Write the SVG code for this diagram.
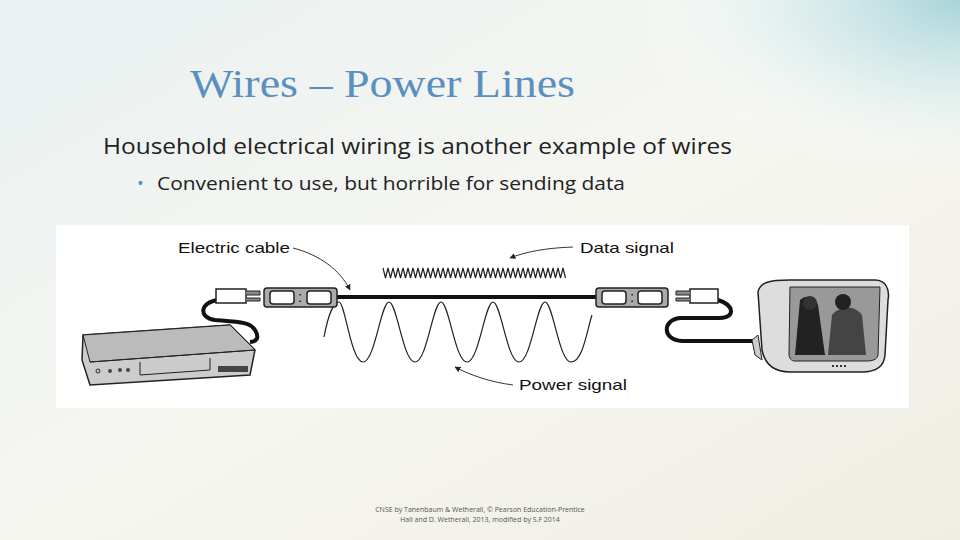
<svg xmlns="http://www.w3.org/2000/svg" width="960" height="540" viewBox="0 0 960 540">
<defs>
<linearGradient id="bg" x1="0" y1="0" x2="1" y2="1">
<stop offset="0" stop-color="#e9f1f1"/><stop offset="0.5" stop-color="#f6f6f1"/><stop offset="1" stop-color="#efeee4"/>
</linearGradient>
<radialGradient id="tr" cx="1" cy="0" r="0.6">
<stop offset="0" stop-color="#a9d4da"/><stop offset="0.5" stop-color="#d6ecec" stop-opacity="0.7"/><stop offset="1" stop-color="#ffffff" stop-opacity="0"/>
</radialGradient>
<marker id="ah" viewBox="0 0 10 10" refX="9" refY="5" markerWidth="6" markerHeight="6" orient="auto"><path d="M0,0L10,5L0,10z" fill="#222"/></marker>
</defs>
<style>
.t{font-family:"Liberation Sans",Arial,sans-serif;fill:#111;font-size:15px}
.o{fill:#aaa;stroke:#222;stroke-width:1.5}
.s{fill:#fff;stroke:#222;stroke-width:1.5}
.w{fill:none;stroke:#222;stroke-width:1.2}
.c{fill:none;stroke:#111;stroke-width:4}
.a{fill:none;stroke:#333;stroke-width:1;marker-end:url(#ah)}
</style>
<rect width="960" height="540" fill="url(#bg)"/>
<rect x="400" y="0" width="560" height="300" fill="url(#tr)"/>
<text x="190" y="97" font-family="Liberation Serif,serif" font-size="40" fill="#5b8fc0" textLength="385" lengthAdjust="spacingAndGlyphs">Wires – Power Lines</text>
<text x="103" y="154" font-family="Open Sans,sans-serif" font-size="22" fill="#222" textLength="629" lengthAdjust="spacingAndGlyphs">Household electrical wiring is another example of wires</text>
<text x="137" y="190" font-family="Open Sans,sans-serif" font-size="18" fill="#5b8fc0">•</text>
<text x="157" y="190" font-family="Open Sans,sans-serif" font-size="18" fill="#222" textLength="468" lengthAdjust="spacingAndGlyphs">Convenient to use, but horrible for sending data</text>
<rect x="56" y="225" width="853" height="183" fill="#fff"/>
<g id="connectors">
<path class="c" d="M336,297H596"/>
<path class="c" d="M218,300C200,302 198,318 215,320C240,322 250,322 255,330C260,338 256,342 250,342"/>
<path class="c" d="M718,300C735,305 735,318 720,318H680C662,320 662,340 682,341H752"/>
</g>
<g id="power-wave"><path class="w" d="M329,337 C334,310 340,302 344,302 C350,302 356,362 368,362 C380,362 386,302 394,302 C402,302 408,362 420,362 C432,362 438,302 446,302 C454,302 460,362 472,362 C484,362 490,302 498,302 C506,302 512,362 524,362 C536,362 542,302 550,302 C558,302 564,362 576,362 C588,362 592,330 597,315" transform="translate(-5,0)"/></g>
<g id="data-wave"><path class="w" d="M383,268 l2.5,10 l2.5,-10 l2.5,10 l2.5,-10 l2.5,10 l2.5,-10 l2.5,10 l2.5,-10 l2.5,10 l2.5,-10 l2.5,10 l2.5,-10 l2.5,10 l2.5,-10 l2.5,10 l2.5,-10 l2.5,10 l2.5,-10 l2.5,10 l2.5,-10 l2.5,10 l2.5,-10 l2.5,10 l2.5,-10 l2.5,10 l2.5,-10 l2.5,10 l2.5,-10 l2.5,10 l2.5,-10 l2.5,10 l2.5,-10 l2.5,10 l2.5,-10 l2.5,10 l2.5,-10 l2.5,10 l2.5,-10 l2.5,10 l2.5,-10 l2.5,10 l2.5,-10 l2.5,10 l2.5,-10 l2.5,10 l2.5,-10 l2.5,10 l2.5,-10 l2.5,10 l2.5,-10 l2.5,10 l2.5,-10 l2.5,10 l2.5,-10 l2.5,10 l2.5,-10 l2.5,10 l2.5,-10 l2.5,10 l2.5,-10 l2.5,10 l2.5,-10 l2.5,10 l2.5,-10 l2.5,10 l2.5,-10 l2.5,10 l2.5,-10 l2.5,10 l2.5,-10 l2.5,10 l2.5,-10 l2.5,10"/></g>
<g id="labels">
<text class="t" x="178" y="253" textLength="112" lengthAdjust="spacingAndGlyphs">Electric cable</text>
<path class="a" d="M293,248C320,255 340,270 350,290"/>
<text class="t" x="580" y="253" textLength="94" lengthAdjust="spacingAndGlyphs">Data signal</text>
<path class="a" d="M573,247C545,248 525,252 510,258"/>
<text class="t" x="519" y="390" textLength="108" lengthAdjust="spacingAndGlyphs">Power signal</text>
<path class="a" d="M513,385C490,382 470,375 455,367"/>
</g>
<g id="outlet-left"><rect class="o" x="264" y="288" width="73" height="19" rx="3"/><rect class="s" x="270" y="291" width="24" height="13" rx="3"/><rect class="s" x="307" y="291" width="24" height="13" rx="3"/><text class="t" x="298" y="302" font-size="10">:</text></g>
<g id="outlet-right"><rect class="o" x="596" y="288" width="72" height="19" rx="3"/><rect class="s" x="602" y="291" width="24" height="13" rx="3"/><rect class="s" x="638" y="291" width="24" height="13" rx="3"/><text class="t" x="630" y="302" font-size="10">:</text></g>
<g id="plug-left"><rect class="s" x="216" y="289" width="30" height="14"/><path d="M246,291h14v4h-14M246,298h14v3h-14" fill="#888" stroke="#222"/></g>
<g id="plug-right"><rect class="s" x="690" y="289" width="28" height="14"/><path d="M690,291h-14v4h14M690,298h-14v3h14" fill="#888" stroke="#222"/></g>
<g id="vcr">
<path d="M83,335L230,325L255,350L250,375L90,385L82,360Z" fill="#ccc" stroke="#222" stroke-width="1.5"/>
<path d="M83,335L230,325L255,350L90,362Z" fill="#bbb" stroke="#222"/>
<path d="M90,362L255,350M140,362L140,375L210,370L210,358" fill="none" stroke="#222"/>
<circle cx="98" cy="371" r="2" fill="none" stroke="#222"/><circle cx="110" cy="371" r="2" fill="#444"/><circle cx="120" cy="370" r="2" fill="#444"/><circle cx="128" cy="370" r="2" fill="#444"/>
<rect x="218" y="366" width="30" height="6" fill="#444"/>
</g>
<g id="tv">
<path d="M758,292C760,282 770,280 790,280H875C886,280 890,290 888,300L885,355C884,367 875,372 862,372H790C775,372 765,365 762,350Z" fill="#ddd" stroke="#222" stroke-width="1.5"/>
<path d="M790,287H880L878,355C877,360 872,361 866,361H795C791,361 789,358 789,354Z" fill="#999" stroke="#222"/>
<path d="M795,355L800,300C805,295 815,295 818,305L825,355Z" fill="#222"/>
<circle cx="810" cy="303" r="7" fill="#333"/>
<path d="M828,355L832,315C840,305 855,305 862,315L866,355Z" fill="#444"/>
<circle cx="843" cy="302" r="8" fill="#222"/>
<path d="M752,340L758,335L762,360L755,355Z" fill="#ccc" stroke="#222"/>
<path d="M832,366h16" stroke="#333" stroke-width="2" stroke-dasharray="2,2"/>
</g>
<text x="480" y="512" text-anchor="middle" font-family="Open Sans,sans-serif" font-size="7" fill="#555">CNSE by Tanenbaum &amp; Wetherall, © Pearson Education-Prentice</text>
<text x="480" y="522" text-anchor="middle" font-family="Open Sans,sans-serif" font-size="7" fill="#555">Hall and D. Wetherall, 2013, modified by S.F 2014</text>
</svg>
